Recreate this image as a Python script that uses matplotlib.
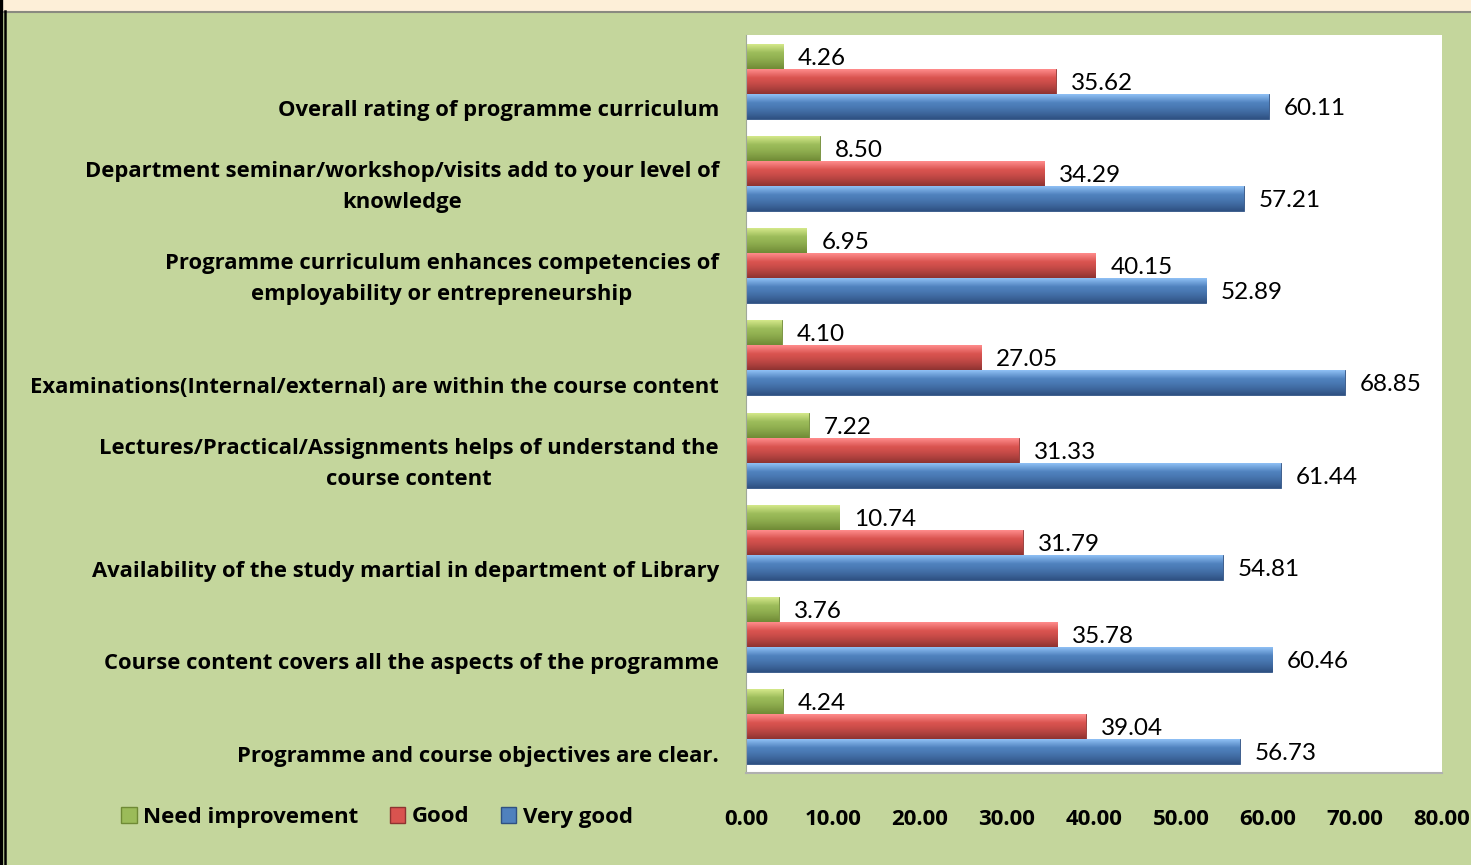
import numpy as np
import matplotlib.pyplot as plt
from matplotlib.patches import Rectangle, Patch
from matplotlib.lines import Line2D
from matplotlib.colors import to_rgb

categories = [
    'Overall rating of programme curriculum',
    'Department seminar/workshop/visits add to your level of\nknowledge',
    'Programme curriculum enhances competencies of\nemployability or entrepreneurship',
    'Examinations(Internal/external) are within the course content',
    'Lectures/Practical/Assignments helps of understand the\ncourse content',
    'Availability of the study martial in department of Library',
    'Course content covers all the aspects of the programme',
    'Programme and course objectives are clear.',
]
need_improvement = [4.26, 8.50, 6.95, 4.10, 7.22, 10.74, 3.76, 4.24]
good = [35.62, 34.29, 40.15, 27.05, 31.33, 31.79, 35.78, 39.04]
very_good = [60.11, 57.21, 52.89, 68.85, 61.44, 54.81, 60.46, 56.73]

series = [
    ('Need improvement', need_improvement, ('#d4e88a', '#9bbb59', '#6f8a35')),
    ('Good', good, ('#ff8c8c', '#d9534f', '#8e3331')),
    ('Very good', very_good, ('#8fc0f5', '#4f81bd', '#2f5182')),
]

plt.rcParams['font.family'] = ['Lato', 'DejaVu Sans']
BOLD = ['Open Sans', 'DejaVu Sans']
BSIZE = 16

W, H = 1471, 865
fig = plt.figure(figsize=(W / 100, H / 100), dpi=100, facecolor='#c4d69c')
ax = fig.add_axes([746 / W, 1 - 773 / H, 696 / W, 738 / H])
ax.set_facecolor('white')


def gradient(stops, n=64):
    top, mid, bot = [np.array(to_rgb(c)) for c in stops]
    t = np.linspace(0, 1, n)[:, None]
    first = top + (mid - top) * np.clip(t / 0.35, 0, 1)
    col = np.where(t < 0.35, first, mid + (bot - mid) * np.clip((t - 0.35) / 0.65, 0, 1) ** 1.3)
    return col[:, None, :]


bh = 0.271
y = np.arange(len(categories))
for k, (name, vals, stops) in enumerate(series):
    pos = y + (k - 1) * bh
    bars = ax.barh(pos, vals, height=bh, color=stops[1], edgecolor=stops[2], linewidth=0.6, zorder=2)
    img = gradient(stops)
    for bar, v, p in zip(bars, vals, pos):
        im = ax.imshow(img, extent=[0, v, p + bh / 2, p - bh / 2], aspect='auto', zorder=2.5,
                       interpolation='bilinear')
        im.set_clip_path(bar)
        ax.annotate(f'{v:.2f}', (v, p), xytext=(15, -2), textcoords='offset pixels',
                    ha='left', va='center', fontsize=17.5, color='black', zorder=3)

ax.set_xlim(0, 80)
ax.set_ylim(7.5, -0.5)
ax.set_xticks(np.arange(0, 81, 10))
ax.set_xticklabels([f'{t:.2f}' for t in np.arange(0, 81, 10)], fontsize=BSIZE, fontweight='bold',
                   family=BOLD)
ax.tick_params(axis='x', length=0, pad=26)
ax.set_yticks([])
for s in ['top', 'right']:
    ax.spines[s].set_visible(False)
ax.spines['left'].set_color('#a0a89a')
ax.spines['bottom'].set_color('#b0b0b0')
ax.spines['bottom'].set_linewidth(1.5)

for i, lab in enumerate(categories):
    ax.text(-27 / 696, i + 0.43, lab, transform=ax.get_yaxis_transform(), ha='right', va='bottom',
            multialignment='center', fontsize=15.8, fontweight='bold', family=BOLD, linespacing=1.62)

handles = [Patch(facecolor=s[2][1], edgecolor=s[2][2], label=s[0]) for s in series]
fig.legend(handles=handles, loc='center left', bbox_to_anchor=(121 / W, 1 - 817 / H), ncol=3,
           frameon=False, handlelength=0.7, handleheight=0.7, handletextpad=0.3,
           columnspacing=1.4, borderpad=0, borderaxespad=0,
           prop={'weight': 'bold', 'size': BSIZE, 'family': BOLD})

# page decorations
fig.patches.append(Rectangle((0, 1 - 11 / H), 1, 11 / H, transform=fig.transFigure,
                             facecolor='#fdefd8', edgecolor='none'))
fig.lines.append(Line2D([0, 1], [1 - 11.5 / H] * 2, transform=fig.transFigure, color='#8a8a80', lw=1.5))
fig.lines.append(Line2D([1.2 / W] * 2, [0, 1], transform=fig.transFigure, color='black', lw=2.4))
fig.lines.append(Line2D([5 / W] * 2, [0, 1 - 11 / H], transform=fig.transFigure, color='black', lw=1.8))

fig.savefig('out.png', dpi=100, facecolor=fig.get_facecolor())
